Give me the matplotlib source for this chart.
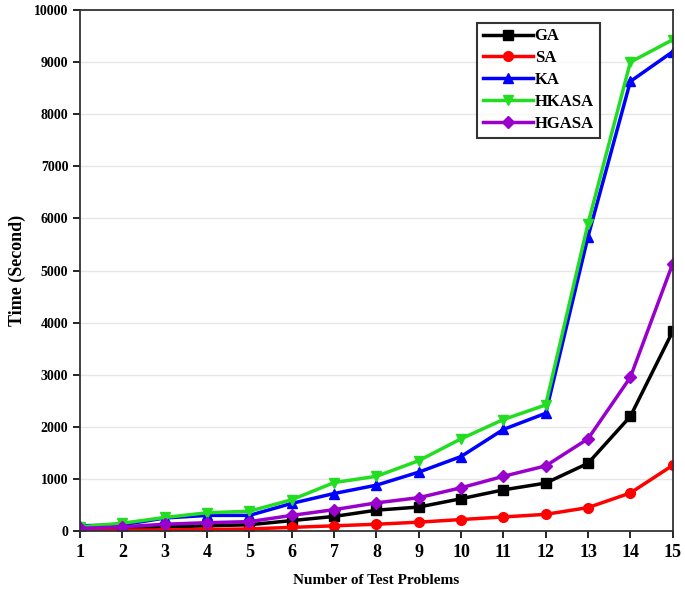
import numpy as np
import matplotlib
matplotlib.use("Agg")
import matplotlib.pyplot as plt

plt.rcParams['font.family'] = ['Liberation Serif', 'DejaVu Serif']
plt.rcParams['font.weight'] = 'bold'

problems = list(range(1, 16))
ga = [30, 50, 80, 100, 120, 200, 280, 400, 460, 620, 790, 920, 1300, 2200, 3830]
sa = [10, 15, 20, 30, 40, 70, 100, 130, 170, 220, 270, 320, 450, 730, 1260]
ka = [100, 120, 250, 300, 300, 530, 720, 880, 1130, 1430, 1950, 2260, 5650, 8630, 9200]
hkasa = [80, 150, 260, 350, 380, 600, 930, 1050, 1350, 1770, 2140, 2420, 5900, 9000, 9430]
hgasa = [50, 80, 130, 160, 180, 300, 410, 540, 640, 830, 1050, 1250, 1770, 2950, 5130]

series = [
    ("GA", ga, "black", "s"),
    ("SA", sa, "#ff0000", "o"),
    ("KA", ka, "#0000ff", "^"),
    ("HKASA", hkasa, "#22dd22", "v"),
    ("HGASA", hgasa, "#9900cc", "D"),
]

fig = plt.figure(figsize=(6.85, 5.91), dpi=100)
ax = fig.add_axes([0.117, 0.1015, 0.865, 0.8815])

for name, vals, color, mk in series:
    ax.plot(problems, vals, color=color, marker=mk, markersize=7 if mk != "D" else 6.5,
            linewidth=2.5, label=name)

ax.set_xlim(1, 15)
ax.set_ylim(0, 10000)
ax.set_xticks(problems)
ax.set_yticks(range(0, 10001, 1000))
ax.yaxis.grid(True, color="#e6e6e6", linewidth=1)
ax.set_axisbelow(True)
for s in ax.spines.values():
    s.set_linewidth(1.3)
    s.set_color("#333333")
ax.tick_params(axis='x', labelsize=13, length=5, width=1.2, pad=4)
ax.tick_params(axis='y', labelsize=10, length=5, width=1.2)
ax.set_xlabel("Number of Test Problems", fontsize=11, fontweight='bold', labelpad=10)
ax.set_ylabel("Time (Second)", fontsize=13, fontweight='bold', labelpad=6)

leg = ax.legend(loc="upper left", bbox_to_anchor=(0.67, 0.976), fontsize=12,
                frameon=True, fancybox=False, handlelength=3.0, handletextpad=0.1,
                borderpad=0.35, labelspacing=0.35, borderaxespad=0)
leg.get_frame().set_edgecolor("black")
leg.get_frame().set_linewidth(1.5)

fig.savefig("out.png", dpi=100)
